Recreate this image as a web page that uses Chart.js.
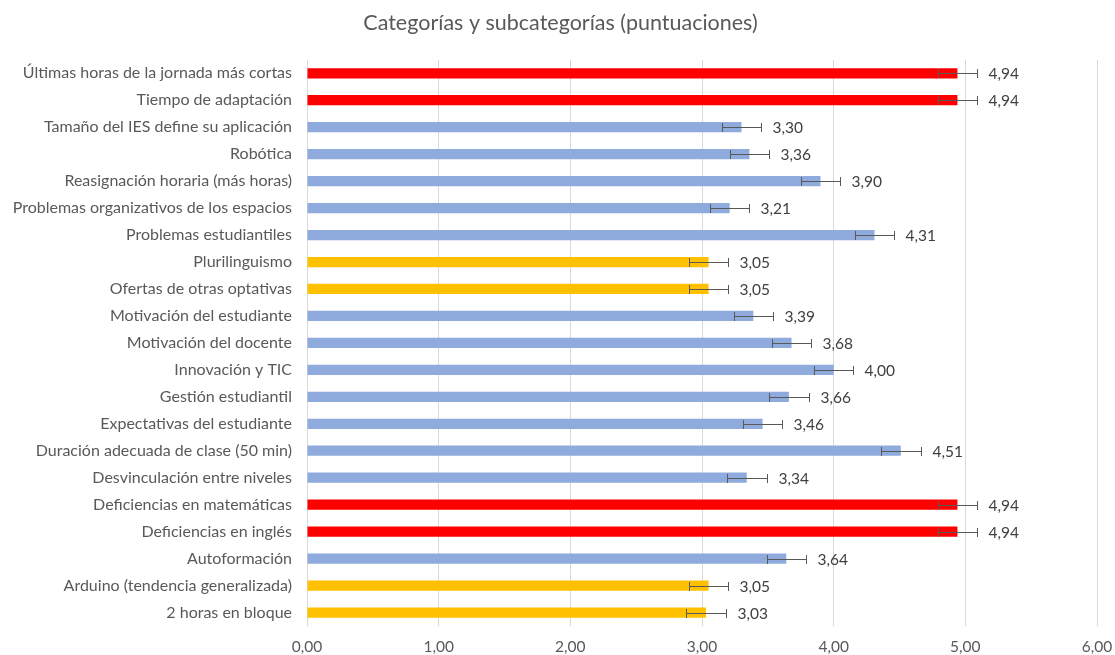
<!DOCTYPE html>
<html>
<head>
<meta charset="utf-8">
<script src="https://cdn.jsdelivr.net/npm/chart.js@4"></script>
<style>
  html, body { margin: 0; padding: 0; background: #fff; }
  #wrap { width: 1115px; height: 655px; position: relative; }
</style>
</head>
<body>
<div id="wrap"><canvas id="chartBar"></canvas></div>
<script>
const categories = [
  'Últimas horas de la jornada más cortas',
  'Tiempo de adaptación',
  'Tamaño del IES define su aplicación',
  'Robótica',
  'Reasignación horaria (más horas)',
  'Problemas organizativos de los espacios',
  'Problemas estudiantiles',
  'Plurilinguismo',
  'Ofertas de otras optativas',
  'Motivación del estudiante',
  'Motivación del docente',
  'Innovación y TIC',
  'Gestión estudiantil',
  'Expectativas del estudiante',
  'Duración adecuada de clase (50 min)',
  'Desvinculación entre niveles',
  'Deficiencias en matemáticas',
  'Deficiencias en inglés',
  'Autoformación',
  'Arduino (tendencia generalizada)',
  '2 horas en bloque'
];

const scores = [4.94, 4.94, 3.30, 3.36, 3.90, 3.21, 4.31, 3.05, 3.05, 3.39, 3.68,
  4.00, 3.66, 3.46, 4.51, 3.34, 4.94, 4.94, 3.64, 3.05, 3.03];

const errors = [0.15, 0.15, 0.15, 0.15, 0.15, 0.15, 0.15, 0.15, 0.15, 0.15, 0.15,
  0.15, 0.15, 0.15, 0.15, 0.15, 0.15, 0.15, 0.15, 0.15, 0.15];

// group per bar: r = high, b = medium, y = low
const groups = ['r', 'r', 'b', 'b', 'b', 'b', 'b', 'y', 'y', 'b', 'b',
  'b', 'b', 'b', 'b', 'b', 'r', 'r', 'b', 'y', 'y'];

const xTicks = [0, 1, 2, 3, 4, 5, 6];

const groupColors = { r: '#FF0000', b: '#8FAADC', y: '#FFC000' };
const textColor = '#595959';
const fontFamily = 'Lato, "Open Sans", sans-serif';

function fmt(v) {
  return v.toFixed(2).replace('.', ',');
}

const errorBarPlugin = {
  id: 'errorBars',
  afterDatasetsDraw(chart) {
    const ctx = chart.ctx;
    const meta = chart.getDatasetMeta(0);
    const xScale = chart.scales.x;
    ctx.save();
    ctx.strokeStyle = '#595959';
    ctx.lineWidth = 1;
    ctx.fillStyle = '#404040';
    ctx.font = '15.5px ' + fontFamily;
    ctx.textBaseline = 'middle';
    ctx.textAlign = 'left';
    meta.data.forEach((bar, i) => {
      const y = Math.round(bar.y) + 0.5;
      const x1 = Math.round(xScale.getPixelForValue(scores[i] - errors[i])) + 0.5;
      const x2 = Math.round(xScale.getPixelForValue(scores[i] + errors[i])) + 0.5;
      ctx.beginPath();
      ctx.moveTo(x1, y);
      ctx.lineTo(x2, y);
      ctx.moveTo(x1, y - 4.5);
      ctx.lineTo(x1, y + 4.5);
      ctx.moveTo(x2, y - 4.5);
      ctx.lineTo(x2, y + 4.5);
      ctx.stroke();
      ctx.fillText(fmt(scores[i]), x2 + 11, bar.y + 1);
    });
    ctx.restore();
  }
};

const ctx = document.getElementById('chartBar').getContext('2d');
new Chart(ctx, {
  type: 'bar',
  data: {
    labels: categories,
    datasets: [{
      label: 'Puntuación',
      data: scores,
      backgroundColor: groups.map(g => groupColors[g]),
      borderWidth: 0,
      barPercentage: 0.38,
      categoryPercentage: 1
    }]
  },
  options: {
    indexAxis: 'y',
    responsive: true,
    maintainAspectRatio: false,
    animation: false,
    layout: { padding: { left: 6, right: 0, top: 6, bottom: 0 } },
    plugins: {
      legend: { display: false },
      tooltip: { enabled: false },
      title: {
        display: true,
        text: 'Categorías y subcategorías (puntuaciones)',
        color: textColor,
        font: { family: fontFamily, size: 21.5, weight: 'normal' },
        padding: { top: 4, bottom: 24 }
      }
    },
    scales: {
      x: {
        min: 0,
        max: 6,
        afterBuildTicks: axis => { axis.ticks = xTicks.map(v => ({ value: v })); },
        afterFit: axis => {
          axis.height = 29;
          axis.paddingRight = 18;
        },
        ticks: {
          color: textColor,
          font: { family: fontFamily, size: 15.5 },
          padding: 12,
          callback: v => fmt(v)
        },
        grid: { color: '#D9D9D9', drawTicks: false },
        border: { display: false }
      },
      y: {
        afterFit: axis => { axis.width = 301; },
        ticks: {
          color: textColor,
          font: { family: fontFamily, size: 16 },
          padding: 15,
          autoSkip: false
        },
        grid: { display: false, drawTicks: false },
        border: { display: false }
      }
    }
  },
  plugins: [errorBarPlugin]
});
</script>
</body>
</html>
